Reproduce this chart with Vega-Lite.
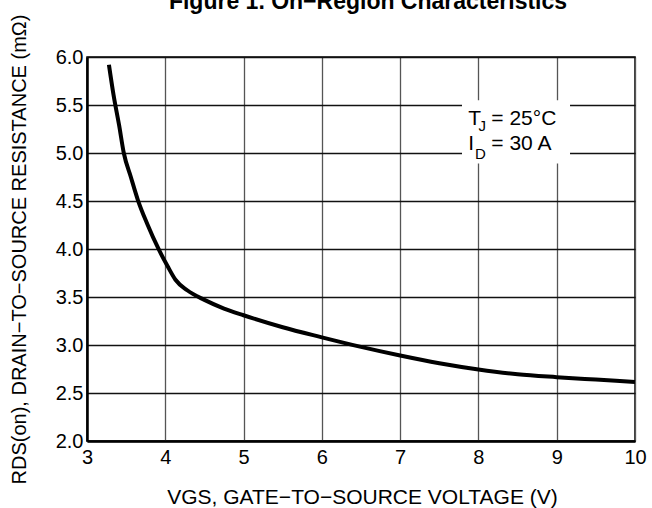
{
  "$schema": "https://vega.github.io/schema/vega-lite/v6.json",
  "width": 548,
  "height": 384,
  "autosize": {"type": "none"},
  "padding": {"left": 87, "top": 57, "right": 17, "bottom": 67},
  "background": "white",
  "title": {
    "text": "Figure 1. On−Region Characteristics",
    "font": "Liberation Sans",
    "fontSize": 23,
    "fontWeight": "bold",
    "color": "#000",
    "anchor": "middle",
    "frame": "group",
    "baseline": "alphabetic",
    "offset": -18,
    "dx": 7
  },
  "config": {
    "view": {"stroke": "#000", "strokeWidth": 1.5},
    "axis": {
      "ticks": false,
      "domain": true,
      "domainColor": "#000",
      "domainWidth": 2.5,
      "grid": true,
      "gridWidth": 1.3,
      "labelFont": "Liberation Sans",
      "labelFontSize": 20,
      "labelColor": "#000",
      "labelOverlap": false,
      "labelFlush": false,
      "titleFont": "Liberation Sans",
      "titleFontSize": 20,
      "titleFontWeight": "normal",
      "titleColor": "#000",
      "titleBaseline": "alphabetic"
    }
  },
  "datasets": {
    "curve": [
      {"vgs": 3.28, "rds": 5.92},
      {"vgs": 3.34, "rds": 5.60},
      {"vgs": 3.41, "rds": 5.29},
      {"vgs": 3.47, "rds": 5.00},
      {"vgs": 3.56, "rds": 4.75},
      {"vgs": 3.65, "rds": 4.51},
      {"vgs": 3.77, "rds": 4.26},
      {"vgs": 3.92, "rds": 3.99},
      {"vgs": 4.03, "rds": 3.82},
      {"vgs": 4.13, "rds": 3.68},
      {"vgs": 4.28, "rds": 3.57},
      {"vgs": 4.50, "rds": 3.47},
      {"vgs": 4.75, "rds": 3.38},
      {"vgs": 5.00, "rds": 3.31},
      {"vgs": 5.50, "rds": 3.185},
      {"vgs": 6.00, "rds": 3.08},
      {"vgs": 6.50, "rds": 2.98},
      {"vgs": 7.00, "rds": 2.89},
      {"vgs": 7.50, "rds": 2.81},
      {"vgs": 8.00, "rds": 2.745},
      {"vgs": 8.50, "rds": 2.695},
      {"vgs": 9.00, "rds": 2.665},
      {"vgs": 9.50, "rds": 2.64},
      {"vgs": 10.00, "rds": 2.615}
    ],
    "box": [{"x1": 7.79, "x2": 9.17, "y1": 5.55, "y2": 4.89}],
    "main": [
      {"x": 7.87, "y": 5.296, "t": "T"},
      {"x": 8.165, "y": 5.296, "t": "= 25°C"},
      {"x": 7.871, "y": 5.028, "t": "I"},
      {"x": 8.165, "y": 5.028, "t": "= 30 A"}
    ],
    "sub": [
      {"x": 8.0, "y": 5.226, "t": "J"},
      {"x": 7.955, "y": 4.942, "t": "D"}
    ]
  },
  "layer": [
    {
      "data": {"name": "box"},
      "mark": {"type": "rect", "fill": "white"},
      "encoding": {
        "x": {"field": "x1", "type": "quantitative", "scale": {"domain": [3, 10], "nice": false, "zero": false},
          "axis": {
            "values": [3, 4, 5, 6, 7, 8, 9, 10],
            "format": "d",
            "gridColor": "#555",
            "labelPadding": 6,
            "labelDx": 5,
            "title": "VGS, GATE−TO−SOURCE VOLTAGE (V)",
            "titleFontSize": 21,
            "titleX": 275,
            "titleY": 62.6,
            "titleAnchor": "middle"
          }
        },
        "x2": {"field": "x2"},
        "y": {"field": "y1", "type": "quantitative", "scale": {"domain": [2, 6], "nice": false, "zero": false},
          "axis": {
            "values": [2, 2.25, 2.5, 2.75, 3, 3.25, 3.5, 3.75, 4, 4.25, 4.5, 4.75, 5, 5.25, 5.5, 5.75, 6],
            "labelExpr": "(datum.value * 2) % 1 == 0 ? format(datum.value, '.1f') : ''",
            "gridColor": "#111",
            "labelPadding": 4,
            "title": "RDS(on), DRAIN−TO−SOURCE RESISTANCE (mΩ)",
            "titleAngle": 270,
            "titleX": -62,
            "titleY": 192,
            "titleAnchor": "middle"
          }
        },
        "y2": {"field": "y2"}
      }
    },
    {
      "data": {"name": "curve"},
      "mark": {"type": "line", "color": "#000", "strokeWidth": 4, "interpolate": "monotone"},
      "encoding": {
        "x": {"field": "vgs", "type": "quantitative"},
        "y": {"field": "rds", "type": "quantitative"}
      }
    },
    {
      "data": {"name": "main"},
      "mark": {"type": "text", "font": "Liberation Sans", "fontSize": 21, "align": "left", "baseline": "alphabetic", "color": "#000"},
      "encoding": {
        "x": {"field": "x", "type": "quantitative"},
        "y": {"field": "y", "type": "quantitative"},
        "text": {"field": "t"}
      }
    },
    {
      "data": {"name": "sub"},
      "mark": {"type": "text", "font": "Liberation Sans", "fontSize": 15, "align": "left", "baseline": "alphabetic", "color": "#000"},
      "encoding": {
        "x": {"field": "x", "type": "quantitative"},
        "y": {"field": "y", "type": "quantitative"},
        "text": {"field": "t"}
      }
    }
  ]
}
